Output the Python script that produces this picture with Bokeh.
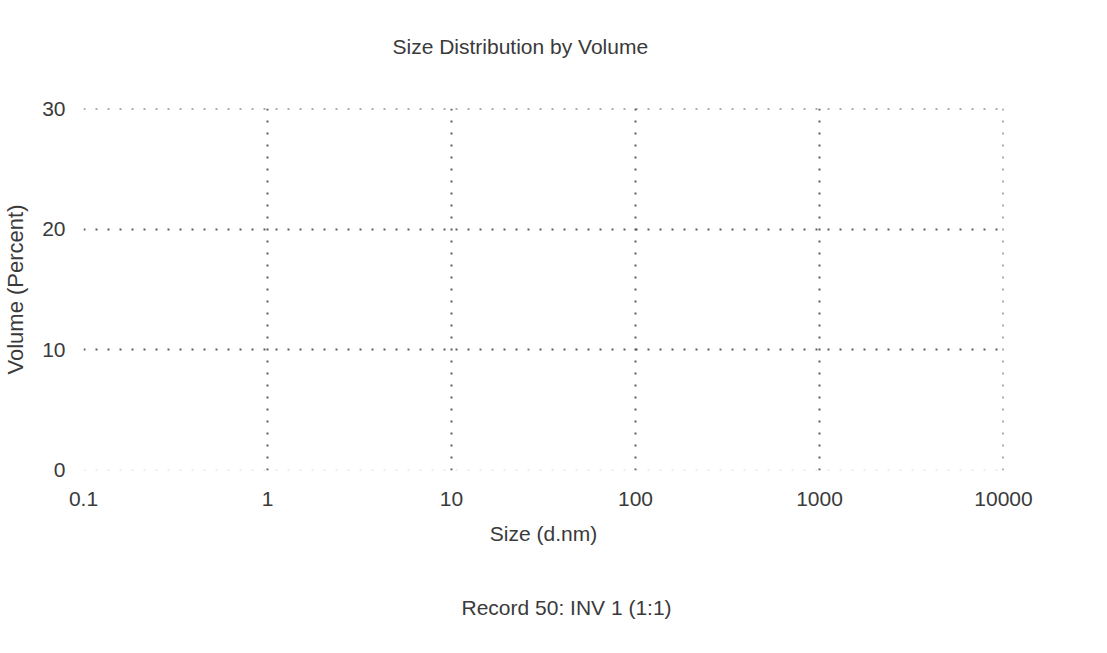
from bokeh.plotting import figure
from bokeh.models import FixedTicker, CustomJSTickFormatter, Grid, Title, Range1d
from bokeh.embed import file_html
from bokeh.resources import INLINE

# ---- data (no distribution curve is visible in the reference) ----
size_nm = []
volume_pct = []
x_ticks = [0.1, 1, 10, 100, 1000, 10000]
y_ticks = [0, 10, 20, 30]
title_text = "Size Distribution by Volume"
x_label = "Size (d.nm)"
y_label = "Volume (Percent)"
record_text = "Record 50: INV 1 (1:1)"

FONT = "Liberation Sans"
TXT = "#3a3a3a"
GRID = "#5e5e5e"
FS = "21px"

p = figure(
    width=1091, height=637,
    x_axis_type="log",
    x_range=Range1d(x_ticks[0], x_ticks[-1] * 1.0001),
    y_range=Range1d(y_ticks[0] - 0.0001, y_ticks[-1] + 0.0001),
    output_backend="svg", toolbar_location=None,
    min_border_left=80, min_border_right=88,
    min_border_top=108, min_border_bottom=167,
)
p.outline_line_color = None
p.background_fill_color = "white"
p.border_fill_color = "white"

p.line(size_nm, volume_pct, line_color="#d62728", line_width=1.5)

# title (top)
p.title.text = title_text
p.title.align = "left"
p.title.offset = 309
p.title.vertical_align = "bottom"
p.title.standoff = 0
p.title.padding = dict(left=0, right=0, top=0, bottom=51)
p.title.text_font = FONT
p.title.text_font_size = FS
p.title.text_font_style = "normal"
p.title.text_color = TXT

# axes
for ax in (p.xaxis[0], p.yaxis[0]):
    ax.axis_line_color = None
    ax.major_tick_line_color = None
    ax.minor_tick_line_color = None
    ax.major_label_text_font = FONT
    ax.major_label_text_font_size = FS
    ax.major_label_text_color = TXT
    ax.axis_label_text_font = FONT
    ax.axis_label_text_font_size = FS
    ax.axis_label_text_font_style = "normal"
    ax.axis_label_text_color = TXT

p.xaxis.ticker = FixedTicker(ticks=x_ticks)
p.xaxis.formatter = CustomJSTickFormatter(code="return String(tick);")
p.xaxis.major_label_standoff = 15
p.xaxis.axis_label = x_label
p.xaxis.axis_label_standoff = 13

p.yaxis.ticker = FixedTicker(ticks=y_ticks)
p.yaxis.major_label_standoff = 12
p.yaxis.axis_label = y_label
p.yaxis.axis_label_text_font_size = "22px"
p.yaxis.axis_label_standoff = 11

# grids
p.xgrid.ticker = FixedTicker(ticks=x_ticks[1:])
p.ygrid.ticker = FixedTicker(ticks=y_ticks[1:])
for g in (p.xgrid[0], p.ygrid[0]):
    g.grid_line_color = GRID
    g.grid_line_width = 2
    g.grid_line_dash = "2 10"

base = Grid(dimension=1, ticker=FixedTicker(ticks=y_ticks[:1]),
            grid_line_color="#d4d4d4", grid_line_width=1.5, grid_line_dash="2 10")
p.add_layout(base)

# record caption (below the x axis)
rec = Title(text=record_text, align="left", offset=378, vertical_align="top",
            standoff=0, padding=dict(left=0, right=0, top=48, bottom=0),
            text_font=FONT, text_font_size=FS, text_font_style="normal",
            text_color=TXT)
p.add_layout(rec, "below")

open("out.html", "w").write(file_html(p, INLINE))
